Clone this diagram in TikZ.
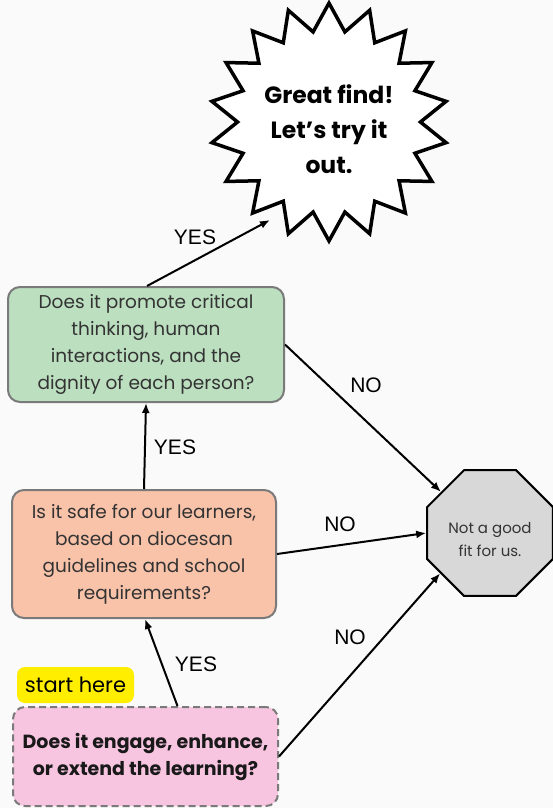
\documentclass[tikz,border=0pt]{standalone}
\usepackage{fontspec}
\setmainfont{Poppins}
\newfontfamily\lblfont{Liberation Sans}
\usetikzlibrary{shapes.geometric,arrows.meta}
\definecolor{bgc}{HTML}{FAFAFA}
\definecolor{greenf}{HTML}{BCDFC0}
\definecolor{orangef}{HTML}{F9C3AA}
\definecolor{pinkf}{HTML}{F8C5E1}
\definecolor{yellowf}{HTML}{FFEE00}
\definecolor{octf}{HTML}{D8D8D8}
\definecolor{boxline}{HTML}{7A7A7A}
\definecolor{txt}{HTML}{333333}
\tikzset{
  qbox/.style={draw=boxline, line width=2pt, rounded corners=12pt, align=center, text=txt, inner sep=0pt, font=\fontsize{18.5}{27}\selectfont},
  arr/.style={line width=2pt, -{Latex[length=10pt,width=8pt]}},
  lbl/.style={font=\lblfont\fontsize{21}{24}\selectfont, text=black}
}
\begin{document}
\begin{tikzpicture}[x=1pt,y=-1pt]
\fill[bgc] (0,0) rectangle (553,808);
\useasboundingbox (0,0) rectangle (553,808);

\node[star, star points=18, star point ratio=1.3, minimum size=234pt, draw=black, fill=white, line width=3.5pt, inner sep=0pt, font=\bfseries\fontsize{23.5}{35}\selectfont] (star) at (329,122) {\raisebox{-9pt}[\height][\depth]{\begin{tabular}{@{}c@{}}Great find!\\Let’s try it\\out.\end{tabular}}};

\node[qbox, fill=greenf, minimum width=276pt, minimum height=115pt] (green) at (146,344.5) {Does it promote critical\\thinking, human\\interactions, and the\\dignity of each person?};

\node[qbox, fill=orangef, minimum width=264pt, minimum height=128pt] (orange) at (144,554) {Is it safe for our learners,\\based on diocesan\\guidelines and school\\requirements?};

\node[qbox, dashed, dash pattern=on 7pt off 4pt, fill=pinkf, minimum width=265pt, minimum height=99pt, font=\bfseries\fontsize{19}{27}\selectfont, text=black!90] (pink) at (145.5,756.5) {Does it engage, enhance,\\or extend the learning?};

\node[fill=yellowf, rounded corners=8pt, minimum width=117pt, minimum height=36pt, inner sep=0pt, font=\fontsize{21}{24}\selectfont] (start) at (75.5,685) {start here};

\node[regular polygon, regular polygon sides=8, minimum size=136pt, draw=black, line width=2pt, fill=octf, inner sep=0pt, text=txt, font=\fontsize{15}{23}\selectfont] (oct) at (490,533) {\raisebox{-7pt}[\height][\depth]{\begin{tabular}{@{}c@{}}Not a good\\fit for us.\end{tabular}}};

\coordinate (starin) at (270,220);

\draw[arr] ([xshift=1pt]green.north) -- (starin);
\draw[arr] (orange.north) -- (green.south);
\draw[arr] ([xshift=32pt]pink.north) -- ([xshift=1pt]orange.south);
\draw[arr] (green.east) -- (oct.140);
\draw[arr] (orange.east) -- (oct.west);
\draw[arr] (pink.east) -- (oct.219);

\node[lbl] (y1) at (195,237) {YES};
\node[lbl] (n1) at (366,385) {NO};
\node[lbl] (y2) at (175,447) {YES};
\node[lbl] (n2) at (340,524) {NO};
\node[lbl] (n3) at (350,637) {NO};
\node[lbl] (y3) at (196,664) {YES};
\end{tikzpicture}
\end{document}
